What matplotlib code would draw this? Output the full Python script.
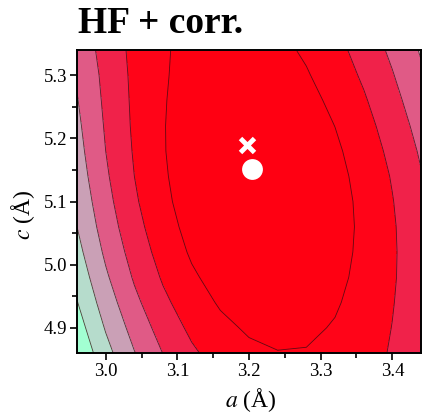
import numpy as np
import matplotlib
matplotlib.use('Agg')
import matplotlib.pyplot as plt
from matplotlib.ticker import MultipleLocator


# lattice parameters of the scan grid (Angstrom)
A_VALUES = [2.96, 3.00, 3.04, 3.08, 3.12, 3.16, 3.20, 3.24, 3.28, 3.32, 3.36, 3.40, 3.44]
C_VALUES = [4.86, 4.90, 4.94, 4.98, 5.02, 5.06, 5.10, 5.14, 5.18, 5.22, 5.26, 5.30, 5.34]

# relative energy on the grid, one row per c value (in contour-step units)
ENERGY = [
    [6.89, 5.34, 4.04, 2.98, 2.16, 1.57, 1.19, 1.03, 1.05, 1.26, 1.61, 2.09, 2.68],
    [6.46, 4.92, 3.63, 2.59, 1.79, 1.22, 0.88, 0.76, 0.83, 1.07, 1.48, 2.02, 2.67],
    [6.04, 4.52, 3.24, 2.22, 1.44, 0.90, 0.60, 0.50, 0.61, 0.90, 1.36, 1.95, 2.65],
    [5.66, 4.15, 2.89, 1.89, 1.14, 0.63, 0.35, 0.29, 0.43, 0.76, 1.26, 1.89, 2.64],
    [5.31, 3.82, 2.59, 1.61, 0.88, 0.40, 0.15, 0.12, 0.30, 0.67, 1.20, 1.87, 2.66],
    [5.00, 3.54, 2.34, 1.39, 0.69, 0.23, 0.01, 0.02, 0.22, 0.62, 1.18, 1.89, 2.71],
    [4.75, 3.32, 2.14, 1.22, 0.55, 0.13, -0.06, -0.03, 0.21, 0.63, 1.22, 1.96, 2.80],
    [4.53, 3.14, 2.00, 1.12, 0.48, 0.09, -0.07, -0.01, 0.25, 0.70, 1.32, 2.07, 2.94],
    [4.35, 3.00, 1.91, 1.06, 0.46, 0.11, -0.02, 0.07, 0.36, 0.83, 1.47, 2.24, 3.12],
    [4.20, 2.90, 1.85, 1.05, 0.49, 0.17, 0.08, 0.20, 0.51, 1.01, 1.66, 2.45, 3.34],
    [4.05, 2.81, 1.82, 1.07, 0.55, 0.27, 0.21, 0.36, 0.70, 1.22, 1.89, 2.69, 3.58],
    [3.90, 2.73, 1.79, 1.10, 0.63, 0.39, 0.37, 0.55, 0.92, 1.46, 2.14, 2.94, 3.84],
    [3.71, 2.61, 1.75, 1.11, 0.70, 0.51, 0.53, 0.74, 1.14, 1.69, 2.39, 3.20, 4.09],
]

LEVELS = [-1, 1, 2, 3, 4, 5, 6, 10]
FILL_COLORS = ['#ff0012', '#ff0418', '#f0224a', '#e05a86', '#caa0b6', '#b6dccc', '#a2ffd2']

# experimental lattice (cross) and calculated minimum (dot)
EXP_A, EXP_C = 3.197, 5.189
CALC_A, CALC_C = 3.204, 5.152


def main():
    plt.rcParams['font.family'] = ['Liberation Serif', 'DejaVu Serif']
    plt.rcParams['mathtext.fontset'] = 'stix'

    a_grid, c_grid = np.meshgrid(A_VALUES, C_VALUES)
    energy = np.array(ENERGY)

    fig = plt.figure(figsize=(4.22, 4.16), dpi=100)
    ax = fig.add_axes([0.1825, 0.1514, 0.8151, 0.7284])

    ax.contourf(a_grid, c_grid, energy, levels=LEVELS, colors=FILL_COLORS)
    ax.contour(a_grid, c_grid, energy, levels=LEVELS[1:-1],
               colors='#3a0a10', linewidths=0.6, alpha=0.8)

    ax.plot(EXP_A, EXP_C, marker='x', color='white', markersize=10,
            markeredgewidth=3.5, linestyle='none')
    ax.plot(CALC_A, CALC_C, marker='o', color='white', markersize=15,
            markeredgewidth=0, linestyle='none')

    ax.set_xlim(2.96, 3.44)
    ax.set_ylim(4.86, 5.34)
    ax.xaxis.set_major_locator(MultipleLocator(0.1))
    ax.xaxis.set_minor_locator(MultipleLocator(0.05))
    ax.yaxis.set_major_locator(MultipleLocator(0.1))
    ax.yaxis.set_minor_locator(MultipleLocator(0.05))
    ax.tick_params(which='major', direction='out', length=5, width=1.2,
                   labelsize=13.5, pad=2)
    ax.tick_params(which='minor', direction='out', length=3.5, width=1.2)
    for spine in ax.spines.values():
        spine.set_linewidth(1.4)

    ax.set_xlabel(r'$a$ (Å)', fontsize=17, va='center', ha='center')
    ax.xaxis.set_label_coords(0.506, -0.155)
    ax.set_ylabel(r'$c$ (Å)', fontsize=17, va='center', ha='center')
    ax.yaxis.set_label_coords(-0.157, 0.455)

    fig.text(0.185, 1 - 33 / 416, 'HF + corr.', fontsize=27, fontweight='bold',
             ha='left', va='baseline')

    fig.savefig('out.png', dpi=100)


if __name__ == '__main__':
    main()
